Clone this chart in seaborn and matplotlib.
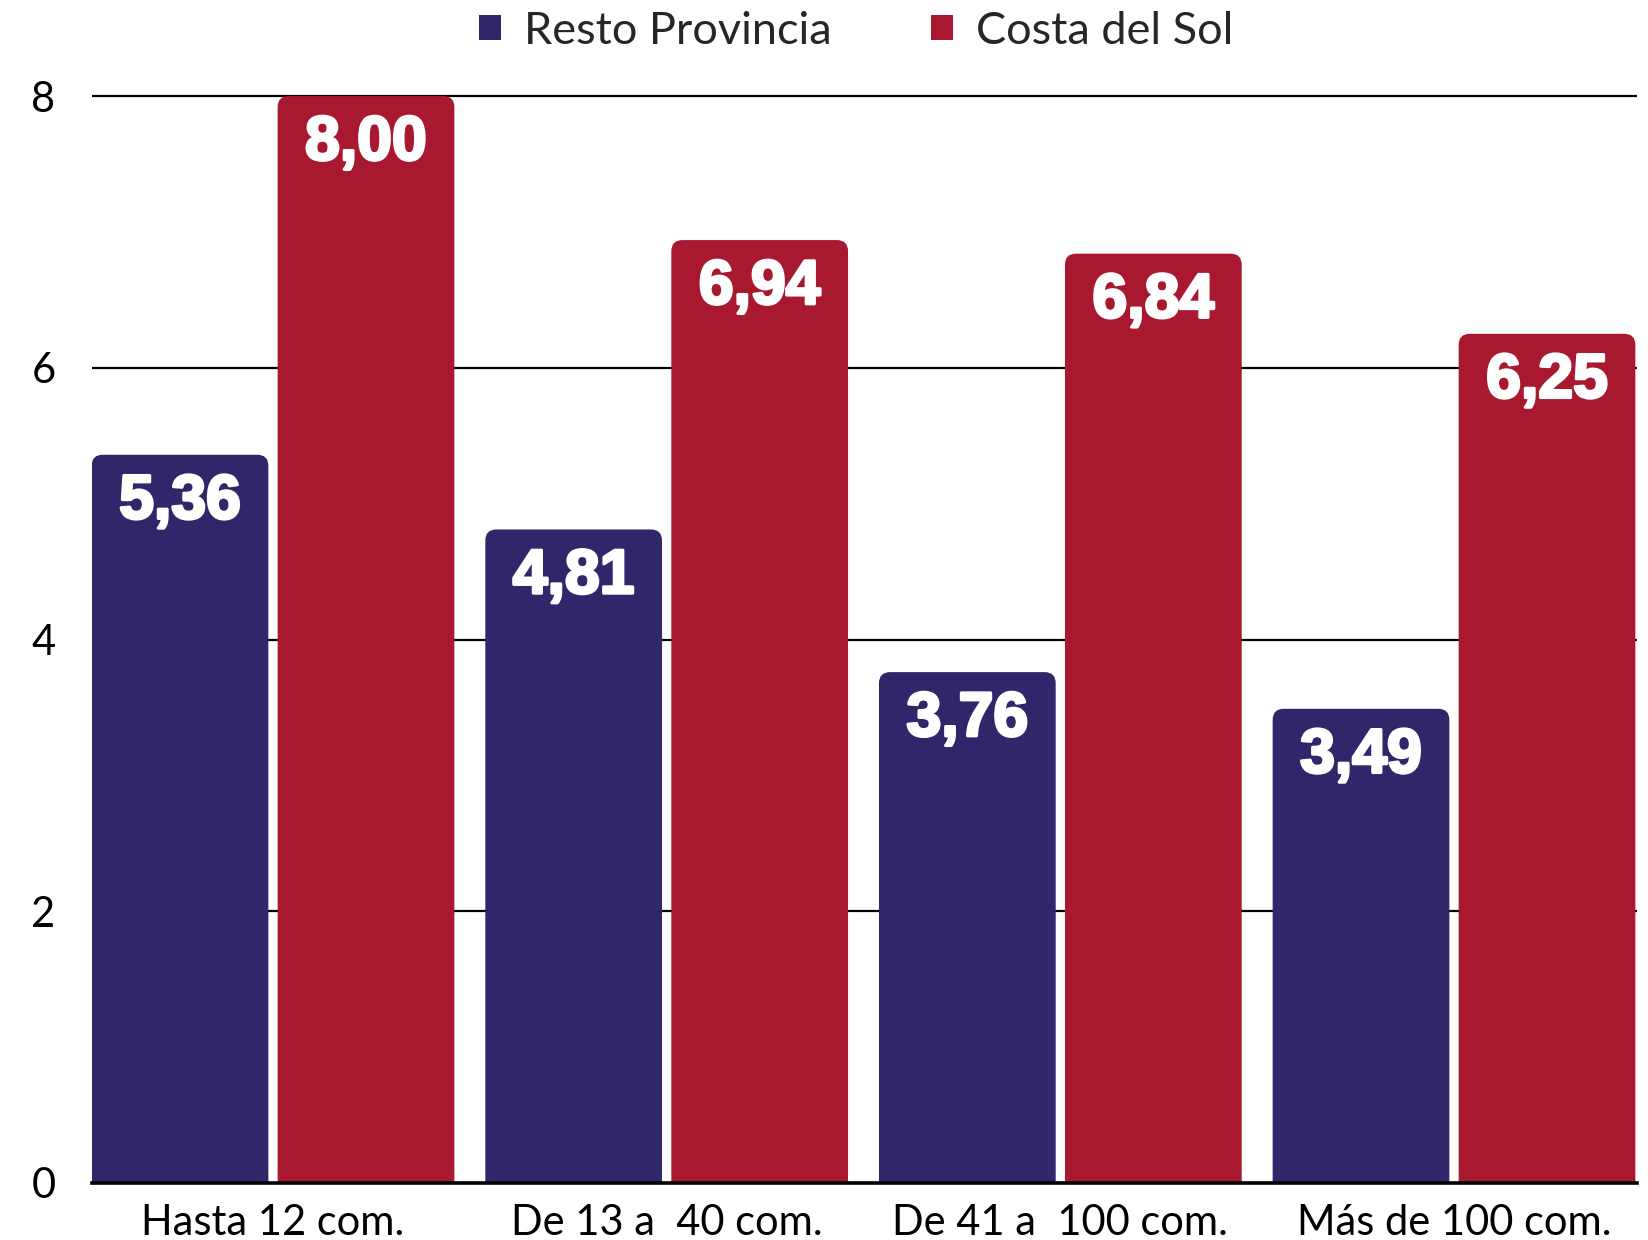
import matplotlib
matplotlib.use("Agg")
import matplotlib.pyplot as plt
from matplotlib.patches import FancyBboxPatch, Patch
import matplotlib.patheffects as pe
import seaborn as sns
import pandas as pd

categories = ["Hasta 12 com.", "De 13 a  40 com.", "De 41 a  100 com.", "Más de 100 com."]
series_names = ["Resto Provincia", "Costa del Sol"]
resto = [5.36, 4.81, 3.76, 3.49]
costa = [8.00, 6.94, 6.84, 6.25]
y_ticks = [0, 2, 4, 6, 8]

colors = {"Resto Provincia": "#2F2769", "Costa del Sol": "#A8182F"}

df = pd.DataFrame({
    "cat": categories * 2,
    "serie": [series_names[0]] * 4 + [series_names[1]] * 4,
    "val": resto + costa,
})

sns.set_theme(style="white")
plt.rcParams["font.family"] = ["Lato", "DejaVu Sans"]

fig = plt.figure(figsize=(16.49, 12.40), dpi=100)
ax = fig.add_axes([0.0555, 0.046, 0.9375, 0.882])

sns.barplot(data=df, x="cat", y="val", hue="serie", order=categories,
            hue_order=series_names, palette=colors, width=0.945, gap=0.05,
            legend=False, ax=ax, errorbar=None, saturation=1)

ax.set_xlim(-0.461, 3.466)
ax.set_ylim(0, 8.05)
ax.set_yticks(y_ticks)
ax.set_yticklabels([str(t) for t in y_ticks])
ax.yaxis.grid(True, color="black", linewidth=1.6)
ax.set_axisbelow(True)
for s in ["top", "right", "left"]:
    ax.spines[s].set_visible(False)
ax.spines["bottom"].set_color("black")
ax.spines["bottom"].set_linewidth(2.6)
ax.spines["bottom"].set_zorder(5)
ax.tick_params(axis="both", length=0, labelsize=30, colors="black")
ax.tick_params(axis="y", pad=26)
ax.tick_params(axis="x", pad=15)
ax.set_xlabel("")
ax.set_ylabel("")

# rounded top corners: rebuild bars with FancyBboxPatch from seaborn's bar geometry
bars = list(ax.patches)
for p in bars:
    x0, w, h = p.get_x(), p.get_width(), p.get_height()
    fc = p.get_facecolor()
    p.set_visible(False)
    rb = FancyBboxPatch((x0, -0.2), w, h + 0.2,
                        boxstyle="round,pad=0,rounding_size=0.028",
                        mutation_aspect=2.9, facecolor=fc, edgecolor="none",
                        zorder=3, clip_on=True)
    ax.add_patch(rb)
    ax.annotate(f"{h:.2f}".replace(".", ","), (x0 + w / 2, h),
                xytext=(0, -34), textcoords="offset points",
                ha="center", va="center", color="white", fontsize=45,
                fontweight="bold", family=["Liberation Sans", "DejaVu Sans"],
                path_effects=[pe.withStroke(linewidth=2.2, foreground="white")],
                zorder=6)

handles = [Patch(facecolor=colors[s], edgecolor="none", label=s) for s in series_names]
fig.legend(handles=handles, loc="center", bbox_to_anchor=(0.519, 0.975), ncol=2,
           frameon=False, fontsize=32.5, handlelength=0.5, handleheight=0.5,
           handletextpad=0.5, columnspacing=2.2)

fig.savefig("out.png", dpi=100)
